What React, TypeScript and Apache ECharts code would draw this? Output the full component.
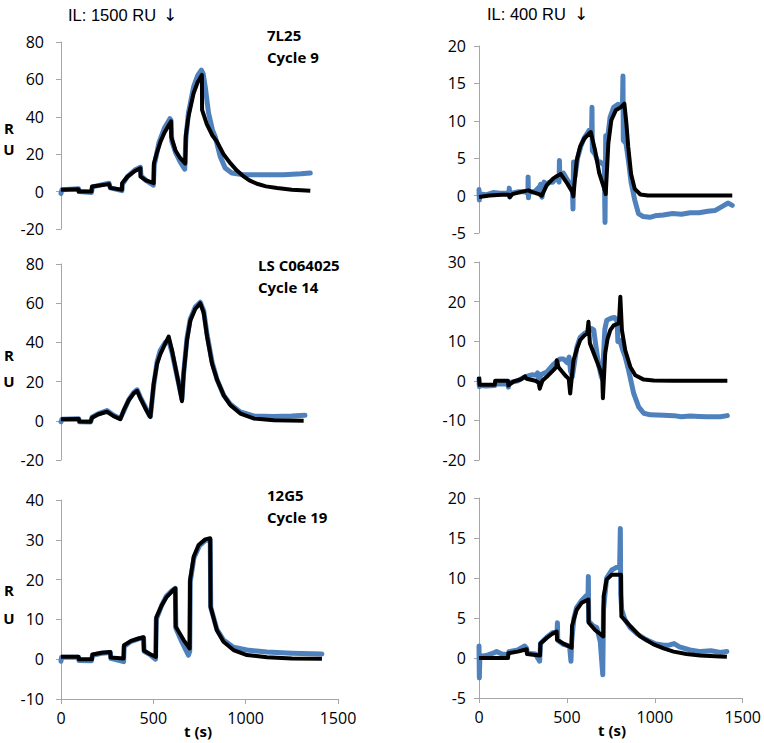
import React, { useEffect, useRef } from "react";
import * as echarts from "echarts";

// ---- Data: [time (s), response (RU)] ----
// Panel A: 7L25, Cycle 9, IL 1500 RU
const expA = [[0,-1],[5,1],[95,1.5],[97,0],[165,-0.5],[170,2.5],[260,4.5],[267,2],[330,0.5],[333,4],[360,8],[400,11.5],[430,13],[433,8.5],[460,6],[500,3.5],[505,14],[530,26],[560,34],[590,39],[596,38],[600,27],[620,21],[645,16],[670,12],[676,28],[690,42],[718,56],[740,62],[760,65],[770,63],[781,56],[799,42],[820,33],[835,29.4],[862,18.8],[889,12.6],[925,9.9],[989,9],[1100,9],[1206,9],[1300,9.5],[1350,9.9]];
const fitA = [[0,1],[95,1.2],[96,0],[165,0],[168,2.7],[260,4],[267,2],[330,1],[331,4.5],[360,8],[400,11],[430,12.5],[431,8],[460,6],[502,4.5],[503,15],[520,21],[540,27],[560,31.5],[580,35],[596,37.5],[597,29.4],[620,22],[645,18],[673,15],[676,30],[690,40],[718,52.6],[740,58.5],[763,62.4],[764,43.7],[790,36],[820,30],[844,26.8],[880,20],[917,15.2],[950,11.5],[989,8.1],[1020,6],[1061,4.2],[1110,2.8],[1170,1.9],[1250,1],[1350,0.5]];

// Panel B: LS C064025, Cycle 14, IL 1500 RU
const expB = [[0,-0.5],[5,0.8],[96,1],[100,-0.5],[160,-0.6],[168,1.8],[200,3.5],[249,5.2],[285,2.8],[321,1.2],[340,5],[367,10.8],[394,14.5],[412,15.8],[430,12],[457,7],[480,2.5],[484,2.2],[502,18],[520,30],[538,36],[565,40],[583,41],[601,35],[619,27],[637,19],[655,11],[664,24],[682,42],[700,52],[727,58],[754,60.5],[773,56],[791,44],[818,30],[845,21],[881,13],[917,8.5],[971,4.5],[1043,2.5],[1152,2.2],[1250,2.4],[1321,2.8]];
const fitB = [[0,0.8],[96,0.9],[100,-0.4],[160,-0.5],[168,1.5],[200,3.2],[249,4.6],[285,2.4],[321,0.8],[340,5.4],[367,10.5],[394,14],[412,15.3],[430,11.4],[457,6.3],[480,2.4],[484,2],[502,19],[520,29],[538,34],[565,39.5],[583,43],[601,36],[619,27.5],[637,19],[655,10],[664,24],[682,41],[700,51],[727,57],[754,60],[773,55],[791,43],[818,29],[845,21],[881,13],[917,8],[971,3.7],[1043,1.2],[1152,0.3],[1314,0]];

// Panel C: 12G5, Cycle 19, IL 1500 RU
const expC = [[0,-0.5],[3,0.5],[95,0.5],[97,-0.3],[165,-0.4],[170,1],[220,1.5],[267,1.7],[270,0.2],[339,-0.6],[342,3.2],[380,4.5],[420,5.1],[447,5.4],[450,2],[480,1.2],[512,0],[516,10],[545,13.5],[570,15.8],[600,17.2],[619,17.8],[622,7.8],[650,4.8],[690,1],[697,2],[700,19.5],[720,25.5],[750,28.5],[780,29.8],[808,30],[811,13],[844,7.5],[880,4.8],[934,3],[1007,2.3],[1115,1.8],[1250,1.5],[1413,1.3]];
const fitC = [[0,0.6],[95,0.6],[96,0],[168,0],[170,1.2],[220,1.6],[267,1.8],[269,0.4],[339,0.2],[341,3.5],[380,4.6],[420,5.2],[447,5.5],[449,2.2],[480,1.3],[514,0.6],[516,10.5],[545,13.5],[570,15.5],[600,17],[619,17.8],[621,8.2],[664,4.8],[697,2.7],[699,19.9],[719,25.8],[745,28.7],[781,30.1],[808,30.4],[810,13.2],[844,7.3],[880,4.4],[934,2.3],[1007,1.05],[1115,0.5],[1250,0.2],[1413,0.1]];

// Panel D: IL 400 RU, top
const expD = [[0,0.8],[2,-0.6],[5,0.2],[40,0.1],[80,0.4],[120,0.3],[170,0.3],[172,1],[174,-0.2],[176,0.3],[220,0.5],[260,0.5],[278,0.3],[279,2.5],[281,-0.3],[283,0.4],[320,0.6],[345,1.2],[350,1.5],[352,0.2],[358,-0.2],[370,1.8],[385,1.5],[400,1.8],[420,1.8],[440,2.5],[455,1.8],[457,4.7],[459,2.8],[480,3],[500,2.2],[515,1.5],[530,1.8],[534,-1.8],[537,4.5],[545,2.5],[560,5],[580,6.7],[600,7.8],[625,8.7],[640,9],[642,11.8],[644,6],[660,5.5],[675,4.5],[690,4.5],[712,4],[716,-3.6],[720,8],[730,7.5],[745,10.5],[765,11.8],[790,12.2],[815,12],[818,16],[820,7.4],[835,7],[850,4.5],[864,1.8],[885,-0.6],[906,-2.4],[933,-2.8],[971,-2.9],[1000,-2.7],[1047,-2.6],[1100,-2.4],[1150,-2.5],[1200,-2.3],[1250,-2.3],[1300,-2.1],[1340,-2],[1370,-1.6],[1400,-1.2],[1416,-1],[1439,-1.3]];
const fitD = [[0,-0.2],[60,0],[130,0.1],[170,0.1],[175,-0.2],[190,0.2],[240,0.5],[279,0.7],[300,0.5],[340,0.2],[357,0],[385,1.4],[422,2.3],[464,2.9],[502,1.6],[530,0.5],[536,-0.1],[555,4.7],[574,6.5],[597,7.6],[635,8.5],[659,6.1],[683,3],[716,0.6],[720,0.2],[735,7],[752,10.1],[777,11.4],[805,11.8],[826,12.3],[838,9.5],[848,6.5],[864,2.9],[885,0.9],[917,0.15],[960,0],[1100,0],[1250,0],[1439,0]];

// Panel E: IL 400 RU, middle
const expE = [[0,0.5],[2,-1.5],[5,-1.2],[40,-1.3],[90,-1.2],[95,-0.8],[165,-0.8],[167,-1.6],[170,-0.5],[220,0],[260,1],[300,1.5],[330,1.4],[333,2],[343,-1],[350,1.5],[385,2.2],[420,4],[460,5.5],[480,5.5],[500,4.6],[512,6],[520,2.5],[530,1],[537,3],[556,8.5],[575,11],[600,12],[616,12.2],[640,13.2],[652,12.8],[665,8.5],[680,4],[695,1],[700,0.5],[705,4],[715,13],[726,15.3],[750,15.8],[770,16],[785,15],[789,9.9],[800,10.2],[815,8],[831,6],[850,2.7],[879,-3.2],[907,-6.6],[936,-8.2],[974,-8.6],[1050,-8.7],[1107,-8.8],[1150,-9.1],[1200,-8.9],[1250,-9],[1300,-9.1],[1372,-9.1],[1411,-8.8]];
const fitE = [[0,1],[3,-1],[90,-1],[92,0],[165,0],[167,-1.2],[195,-0.2],[240,0.4],[262,1.1],[270,0.5],[320,0],[340,-0.5],[345,-2],[360,0],[385,1],[423,2.7],[440,3.5],[442,5.2],[452,3.4],[489,1.4],[510,0.5],[518,-3.2],[537,5.2],[556,8],[575,10.3],[600,11.5],[615,12],[622,14.9],[630,9.5],[660,6],[689,2.7],[700,1],[704,-4.4],[717,6.9],[730,10.5],[746,12.8],[765,14],[795,14.5],[803,21.2],[812,12.8],[831,7.7],[860,3.5],[888,1.4],[936,0.3],[993,0.1],[1100,0],[1250,0],[1411,0]];

// Panel F: IL 400 RU, bottom
const expF = [[0,1.5],[2,-2.5],[5,0.2],[40,0.3],[80,0.6],[100,0.8],[130,0.5],[165,0.4],[170,0.8],[220,1],[260,1.5],[271,1.2],[275,0.6],[320,0.5],[345,-0.4],[350,1.8],[385,2.6],[420,3.2],[444,3.2],[446,4.4],[448,2.2],[480,1.7],[515,1.5],[523,-0.4],[527,2],[540,5],[555,6.3],[584,7.2],[610,7.8],[620,7.6],[622,10.2],[624,4.6],[650,4],[670,3.8],[690,2],[704,-2.1],[708,6],[726,10],[755,11],[780,11.3],[800,11.5],[804,16.2],[806,8],[812,6],[830,4.8],[860,3.8],[900,3],[950,2.3],[1000,1.8],[1050,1.6],[1080,1.6],[1110,1.8],[1140,1.4],[1200,1],[1260,0.8],[1320,0.9],[1372,0.7],[1410,0.8]];
const fitF = [[0,0],[80,0],[165,0],[167,0.6],[220,0.8],[271,1.1],[273,0.5],[310,0.4],[347,0.3],[349,1.8],[385,2.5],[415,3],[442,3.3],[444,2.3],[480,1.8],[527,1.3],[529,4],[555,6],[584,6.9],[622,7.3],[624,4.4],[660,3.5],[707,2.7],[709,7.7],[726,9.8],[755,10.4],[808,10.4],[810,5.2],[835,4.6],[860,4],[917,2.7],[993,1.7],[1050,1.2],[1107,0.8],[1180,0.5],[1258,0.3],[1372,0.2],[1410,0.15]];

// Axis ranges [min, max, interval]
const yRangeA = [-20, 80, 20];
const yRangeB = [-20, 80, 20];
const yRangeC = [-10, 40, 10];
const yRangeD = [-5, 20, 5];
const yRangeE = [-20, 30, 10];
const yRangeF = [-5, 20, 5];
const xRange = [0, 1500, 500];

const titles = ["IL: 1500 RU", "IL: 400 RU"];
const arrow = "\u2193";
const antibodies = [["7L25", "Cycle 9"], ["LS C064025", "Cycle 14"], ["12G5", "Cycle 19"]];

const BLUE = "#4f81bd";
const AXIS = "#a6a6a6";
const LABEL_FONT = "'Open Sans', sans-serif";

export default function App() {
  const ref = useRef<HTMLDivElement>(null);
  useEffect(() => {
    if (!ref.current) return;
    const chart = echarts.init(ref.current, undefined, { renderer: "svg" });

    const panels = [
      { exp: expA, fit: fitA, y: yRangeA, grid: { left: 61, top: 42, width: 277, height: 187 }, showX: false, margin: 17 },
      { exp: expB, fit: fitB, y: yRangeB, grid: { left: 61, top: 264, width: 277, height: 196 }, showX: false, margin: 17 },
      { exp: expC, fit: fitC, y: yRangeC, grid: { left: 61, top: 500, width: 277, height: 199 }, showX: true, margin: 17 },
      { exp: expD, fit: fitD, y: yRangeD, grid: { left: 479, top: 46, width: 264, height: 187 }, showX: false, margin: 13 },
      { exp: expE, fit: fitE, y: yRangeE, grid: { left: 479, top: 262, width: 264, height: 198 }, showX: false, margin: 13 },
      { exp: expF, fit: fitF, y: yRangeF, grid: { left: 479, top: 498, width: 264, height: 200 }, showX: true, margin: 13 },
    ];

    const grids = panels.map((p) => ({ ...p.grid, containLabel: false }));
    const xAxes = panels.map((p, i) => ({
      type: "value",
      gridIndex: i,
      min: xRange[0],
      max: xRange[1],
      interval: xRange[2],
      show: p.showX,
      axisLine: { show: true, onZero: false, lineStyle: { color: AXIS, width: 1 } },
      axisTick: { show: true, inside: false, length: 5, lineStyle: { color: AXIS } },
      splitLine: { show: false },
      axisLabel: { color: "#000", fontSize: 16, fontFamily: LABEL_FONT, margin: 11, formatter: (v: number) => String(v) },
    }));
    const yAxes = panels.map((p, i) => ({
      type: "value",
      gridIndex: i,
      min: p.y[0],
      max: p.y[1],
      interval: p.y[2],
      axisLine: { show: true, lineStyle: { color: AXIS, width: 1 } },
      axisTick: { show: true, inside: false, length: 5, lineStyle: { color: AXIS } },
      splitLine: { show: false },
      axisLabel: { color: "#000", fontSize: 16, fontFamily: LABEL_FONT, margin: p.margin, formatter: (v: number) => String(v) },
    }));
    const series: any[] = [];
    panels.forEach((p, i) => {
      series.push({
        type: "line", xAxisIndex: i, yAxisIndex: i, data: p.exp, showSymbol: false,
        lineStyle: { color: BLUE, width: 5, join: "round", cap: "round" }, z: 2,
      });
      series.push({
        type: "line", xAxisIndex: i, yAxisIndex: i, data: p.fit, showSymbol: false,
        lineStyle: { color: "#000", width: 4, join: "round" }, z: 3,
      });
    });

    const txt = (text: string, x: number, y: number, font: string, align = "left") => ({
      type: "text",
      x, y,
      style: { text, font, fill: "#000", align, verticalAlign: "middle", textAlign: align, textVerticalAlign: "middle" },
    });
    const bold = "bold 15px 'Open Sans', sans-serif";
    const titleFont = "16.5px 'Liberation Sans', Arial, sans-serif";
    const arrowFont = "17px 'DejaVu Sans', sans-serif";
    const graphic: any[] = [
      txt(titles[0], 68, 15, titleFont),
      txt(arrow, 170, 15, arrowFont, "center"),
      txt(titles[1], 487, 14, titleFont),
      txt(arrow, 581, 14, arrowFont, "center"),
      txt(antibodies[0][0], 267, 35, bold),
      txt(antibodies[0][1], 267, 57, bold),
      txt(antibodies[1][0], 258, 265, bold),
      txt(antibodies[1][1], 258, 287, bold),
      txt(antibodies[2][0], 267, 495, bold),
      txt(antibodies[2][1], 267, 517, bold),
      txt("R", 9, 128, bold, "center"),
      txt("U", 9, 149, bold, "center"),
      txt("R", 9, 355, bold, "center"),
      txt("U", 9, 381, bold, "center"),
      txt("R", 9, 590, bold, "center"),
      txt("U", 9, 618, bold, "center"),
      txt("t (s)", 198, 731, bold, "center"),
      txt("t (s)", 612, 730, bold, "center"),
    ];

    chart.setOption({
      animation: false,
      backgroundColor: "#fff",
      grid: grids,
      xAxis: xAxes,
      yAxis: yAxes,
      series,
      graphic,
    });
    return () => chart.dispose();
  }, []);
  return <div ref={ref} style={{ position: "fixed", left: 0, top: 0, width: 764, height: 743 }} />;
}
